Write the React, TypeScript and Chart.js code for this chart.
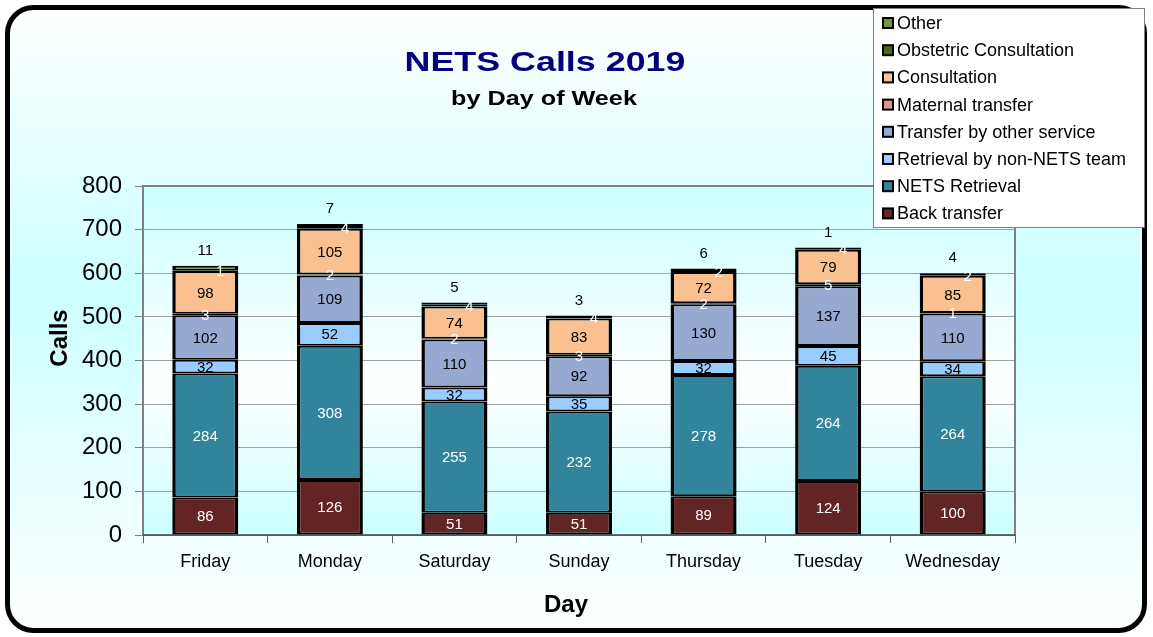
import React, { useEffect, useRef } from "react";
import { Chart, registerables } from "chart.js";

Chart.register(...registerables);

const days = ["Friday", "Monday", "Saturday", "Sunday", "Thursday", "Tuesday", "Wednesday"];
const backTransfer = [86, 126, 51, 51, 89, 124, 100];
const netsRetrieval = [284, 308, 255, 232, 278, 264, 264];
const retrievalNonNets = [32, 52, 32, 35, 32, 45, 34];
const transferOther = [102, 109, 110, 92, 130, 137, 110];
const maternalTransfer = [3, 2, 2, 3, 2, 5, 1];
const consultation = [98, 105, 74, 83, 72, 79, 85];
const obstetricConsultation = [1, 4, 4, 4, 2, 4, 2];
const other = [11, 7, 5, 3, 6, 1, 4];
const yTicks = [0, 100, 200, 300, 400, 500, 600, 700, 800];

const FONT = "'Liberation Sans', Arial, sans-serif";

function roundRectPath(ctx: CanvasRenderingContext2D, x: number, y: number, w: number, h: number, r: number) {
  ctx.beginPath();
  ctx.moveTo(x + r, y);
  ctx.lineTo(x + w - r, y);
  ctx.arcTo(x + w, y, x + w, y + r, r);
  ctx.lineTo(x + w, y + h - r);
  ctx.arcTo(x + w, y + h, x + w - r, y + h, r);
  ctx.lineTo(x + r, y + h);
  ctx.arcTo(x, y + h, x, y + h - r, r);
  ctx.lineTo(x, y + r);
  ctx.arcTo(x, y, x + r, y, r);
  ctx.closePath();
}

function drawScaledText(ctx: CanvasRenderingContext2D, text: string, cx: number, baseline: number, font: string, color: string, sx: number) {
  ctx.save();
  ctx.translate(cx, baseline);
  ctx.scale(sx, 1);
  ctx.font = font;
  ctx.fillStyle = color;
  ctx.textAlign = "center";
  ctx.textBaseline = "alphabetic";
  ctx.fillText(text, 0, 0);
  ctx.restore();
}

const decorPlugin = {
  id: "decor",
  beforeDraw(chart: any) {
    const ctx: CanvasRenderingContext2D = chart.ctx;
    ctx.save();
    ctx.fillStyle = "#ffffff";
    ctx.fillRect(0, 0, chart.width, chart.height);
    const g = ctx.createLinearGradient(0, 8, 0, 632);
    g.addColorStop(0, "#ffffff");
    g.addColorStop(0.46, "#ccffff");
    g.addColorStop(1, "#ffffff");
    roundRectPath(ctx, 7.5, 7.5, 1137, 623, 26);
    ctx.fillStyle = g;
    ctx.fill();
    ctx.lineWidth = 5;
    ctx.strokeStyle = "#000000";
    ctx.stroke();
    const a = chart.chartArea;
    const pg = ctx.createLinearGradient(0, a.top, 0, a.bottom);
    pg.addColorStop(0, "#ccffff");
    pg.addColorStop(0.57, "#ffffff");
    pg.addColorStop(1, "#ccffff");
    ctx.fillStyle = pg;
    ctx.fillRect(a.left, a.top, a.right - a.left, a.bottom - a.top);
    ctx.restore();
  },
  beforeDatasetsDraw(chart: any) {
    const ctx: CanvasRenderingContext2D = chart.ctx;
    const a = chart.chartArea;
    ctx.save();
    ctx.strokeStyle = "#808080";
    ctx.lineWidth = 2;
    ctx.beginPath();
    ctx.moveTo(a.left, a.bottom);
    ctx.lineTo(a.left, a.top);
    ctx.lineTo(a.right, a.top);
    ctx.lineTo(a.right, a.bottom);
    ctx.stroke();
    ctx.strokeStyle = "#404040";
    ctx.lineWidth = 1.5;
    ctx.beginPath();
    ctx.moveTo(a.left, a.bottom);
    ctx.lineTo(a.right, a.bottom);
    ctx.stroke();
    ctx.restore();
  },
  afterDatasetsDraw(chart: any) {
    const ctx: CanvasRenderingContext2D = chart.ctx;
    ctx.save();
    ctx.font = `15px ${FONT}`;
    ctx.textAlign = "center";
    ctx.textBaseline = "middle";
    chart.data.datasets.forEach((ds: any, i: number) => {
      const meta = chart.getDatasetMeta(i);
      meta.data.forEach((bar: any, j: number) => {
        const v = ds.data[j];
        const { x, y, base } = bar.getProps(["x", "y", "base"], true);
        let lx = x;
        let ly = (y + base) / 2;
        if (ds.labelMode === "right") lx = x + 15;
        if (ds.labelMode === "above") ly = y - 16;
        ctx.fillStyle = ds.labelColor;
        ctx.fillText(String(v), lx, ly + 1);
      });
    });
    ctx.restore();
  },
  afterDraw(chart: any) {
    const ctx: CanvasRenderingContext2D = chart.ctx;
    drawScaledText(ctx, "NETS Calls 2019", 545, 71, `bold 28px ${FONT}`, "#000080", 1.28);
    drawScaledText(ctx, "by Day of Week", 544, 105, `bold 21px ${FONT}`, "#000000", 1.2);
    ctx.save();
    ctx.font = `bold 24px ${FONT}`;
    ctx.fillStyle = "#000000";
    ctx.textAlign = "center";
    ctx.textBaseline = "middle";
    ctx.fillText("Day", 566, 605);
    ctx.translate(60, 338);
    ctx.rotate(-Math.PI / 2);
    ctx.fillText("Calls", 0, 0);
    ctx.restore();
    ctx.save();
    ctx.fillStyle = "#ffffff";
    ctx.fillRect(873.5, 8.5, 271, 219);
    ctx.strokeStyle = "#808080";
    ctx.lineWidth = 1;
    ctx.strokeRect(873.5, 8.5, 271, 219);
    const items = chart.data.datasets.slice().reverse();
    ctx.font = `18px ${FONT}`;
    ctx.textAlign = "left";
    ctx.textBaseline = "middle";
    items.forEach((ds: any, k: number) => {
      const cy = 23 + k * 27.2;
      ctx.fillStyle = ds.backgroundColor;
      ctx.fillRect(883, cy - 5, 10, 10);
      ctx.strokeStyle = "#000000";
      ctx.lineWidth = 2;
      ctx.strokeRect(883, cy - 5, 10, 10);
      ctx.fillStyle = "#000000";
      ctx.fillText(ds.label, 897, cy + 1);
    });
    ctx.restore();
  },
};

export default function App() {
  const ref = useRef<HTMLCanvasElement | null>(null);
  useEffect(() => {
    if (!ref.current) return;
    const border = { top: 2, bottom: 2, left: 3.5, right: 3.5 };
    const mk = (label: string, data: number[], color: string, labelColor: string, labelMode = "center") => ({
      label,
      data,
      backgroundColor: color,
      borderColor: "#000000",
      borderWidth: border,
      borderSkipped: false,
      barPercentage: 0.53,
      categoryPercentage: 1,
      labelColor,
      labelMode,
    });
    const chart = new Chart(ref.current, {
      type: "bar",
      data: {
        labels: days,
        datasets: [
          mk("Back transfer", backTransfer, "#632523", "#ffffff"),
          mk("NETS Retrieval", netsRetrieval, "#31849B", "#ffffff"),
          mk("Retrieval by non-NETS team", retrievalNonNets, "#99CCFF", "#000000"),
          mk("Transfer by other service", transferOther, "#95A9D1", "#000000"),
          mk("Maternal transfer", maternalTransfer, "#D99694", "#ffffff"),
          mk("Consultation", consultation, "#FAC08F", "#000000"),
          mk("Obstetric Consultation", obstetricConsultation, "#4F6228", "#ffffff", "right"),
          mk("Other", other, "#77933C", "#000000", "above"),
        ] as any,
      },
      options: {
        responsive: false,
        animation: false,
        layout: { padding: { left: 40, top: 186, right: 138, bottom: 15 } },
        plugins: {
          legend: { display: false },
          title: { display: false },
          tooltip: { enabled: false },
        },
        scales: {
          x: {
            stacked: true,
            afterFit: (s: any) => {
              s.height = 87;
            },
            grid: {
              drawOnChartArea: false,
              drawTicks: true,
              tickLength: 8,
              tickColor: "#606060",
              offset: true,
            },
            border: { display: false },
            ticks: {
              color: "#000000",
              font: { family: FONT, size: 18 },
              padding: 8,
            },
          },
          y: {
            stacked: true,
            min: 0,
            max: 800,
            afterFit: (s: any) => {
              s.width = 103;
            },
            afterBuildTicks: (s: any) => {
              s.ticks = yTicks.map((v) => ({ value: v }));
            },
            grid: {
              color: "#a0a0a0",
              lineWidth: 1,
              borderDash: [2, 2],
              tickColor: "#808080",
              tickBorderDash: [],
              tickLength: 8,
              drawTicks: true,
            },
            border: { display: false },
            ticks: {
              color: "#000000",
              font: { family: FONT, size: 24 },
              padding: 13,
            },
          },
        },
      },
      plugins: [decorPlugin],
    } as any);
    return () => chart.destroy();
  }, []);
  return (
    <div style={{ position: "absolute", left: 0, top: 0, width: 1153, height: 637 }}>
      <canvas ref={ref} width={1153} height={637} style={{ width: 1153, height: 637, display: "block" }} />
    </div>
  );
}
